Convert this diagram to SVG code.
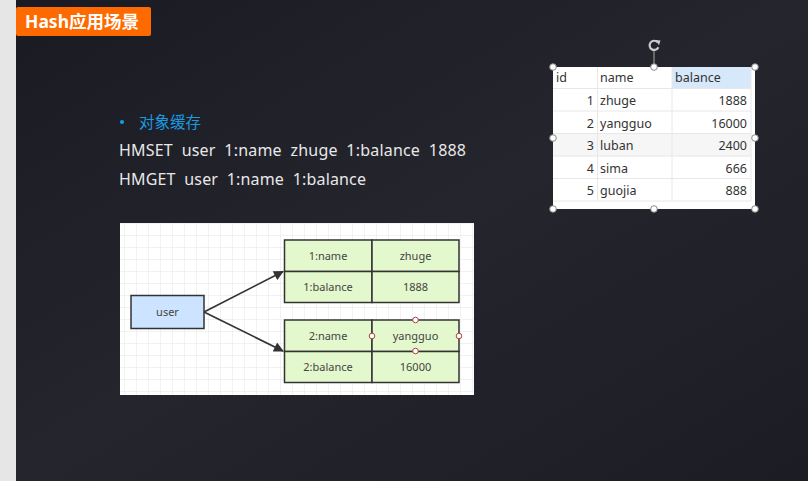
<svg xmlns="http://www.w3.org/2000/svg" width="808" height="481" viewBox="0 0 808 481">
<defs>
<linearGradient id="bg" x1="0" y1="0" x2="1" y2="1">
<stop offset="0" stop-color="#1a1a22"/>
<stop offset="0.5" stop-color="#25252d"/>
<stop offset="1" stop-color="#1c1c24"/>
</linearGradient>
<pattern id="grid" x="124" y="235" width="12" height="12" patternUnits="userSpaceOnUse">
<path d="M0 0V12M0 0H12" fill="none" stroke="#e6e6e6" stroke-width="1"/>
</pattern>
<marker id="arr" viewBox="0 0 10 10" refX="9" refY="5" markerWidth="11" markerHeight="10" markerUnits="userSpaceOnUse" orient="auto">
<path d="M0 0L10 5L0 10Z" fill="#333"/>
</marker>
<style>
.t{font-family:"Noto Sans","Noto Sans CJK SC",sans-serif}
.cmd{font-size:16px;fill:#e8e8e8}
.cell{fill:#e3f8cc;stroke:#333;stroke-width:1.5}
.ct{font-family:"Noto Sans",sans-serif;font-size:11px;fill:#444;text-anchor:middle}
.h{fill:#fff;stroke:#b04040;stroke-width:1}
.tb{font-family:"Noto Sans","Microsoft YaHei",sans-serif;font-size:12.5px;fill:#333}
.r{text-anchor:end}
.sel{fill:#fff;stroke:#888;stroke-width:1}
</style>
</defs>
<rect width="808" height="481" fill="url(#bg)"/>
<rect width="16" height="481" fill="#e6e6e6"/>

<g id="title">
<rect x="16" y="7" width="135" height="29" rx="2" fill="#ff6a00"/>
<text class="t" x="25" y="28" font-size="17.5" font-weight="bold" fill="#fff">Hash应用场景</text>
</g>

<g id="text">
<circle cx="122" cy="122" r="2.1" fill="#1a9ae0"/>
<text class="t" x="139" y="128" font-size="15.5" fill="#1a9ae0">对象缓存</text>
<text class="t cmd" x="119" y="156" textLength="347" lengthAdjust="spacing" xml:space="preserve">HMSET  user  1:name  zhuge  1:balance  1888</text>
<text class="t cmd" x="119" y="185" textLength="247" lengthAdjust="spacing" xml:space="preserve">HMGET  user  1:name  1:balance</text>
</g>

<g id="diagram">
<rect x="120" y="223" width="354" height="172" fill="#fff"/>
<rect x="120" y="223" width="354" height="172" fill="url(#grid)"/>
<g id="connectors">
<line x1="204" y1="312" x2="283" y2="271.5" stroke="#333" stroke-width="1.7" marker-end="url(#arr)"/>
<line x1="204" y1="312" x2="283" y2="351" stroke="#333" stroke-width="1.7" marker-end="url(#arr)"/>
</g>
<g id="user">
<rect x="131" y="295.5" width="73" height="33" fill="#cce4ff" stroke="#333" stroke-width="1.5"/>
<text class="ct" x="167.5" y="316">user</text>
</g>
<g id="hash1">
<rect class="cell" x="284.5" y="240" width="87.5" height="31.5"/>
<rect class="cell" x="372" y="240" width="87" height="31.5"/>
<rect class="cell" x="284.5" y="271.5" width="87.5" height="31"/>
<rect class="cell" x="372" y="271.5" width="87" height="31"/>
<text class="ct" x="328" y="260">1:name</text>
<text class="ct" x="415.5" y="260">zhuge</text>
<text class="ct" x="328" y="291">1:balance</text>
<text class="ct" x="415.5" y="291">1888</text>
</g>
<g id="hash2">
<rect class="cell" x="284.5" y="320" width="87.5" height="31.5"/>
<rect class="cell" x="372" y="320" width="87" height="31.5"/>
<rect class="cell" x="284.5" y="351.5" width="87.5" height="31"/>
<rect class="cell" x="372" y="351.5" width="87" height="31"/>
<text class="ct" x="328" y="340">2:name</text>
<text class="ct" x="415.5" y="340">yangguo</text>
<text class="ct" x="328" y="371">2:balance</text>
<text class="ct" x="415.5" y="371">16000</text>
<circle class="h" cx="415.5" cy="320" r="2.8"/>
<circle class="h" cx="372" cy="336" r="2.8"/>
<circle class="h" cx="459" cy="336" r="2.8"/>
<circle class="h" cx="415.5" cy="351" r="2.8"/>
</g>
</g>

<g id="table">
<rect x="553" y="67" width="202" height="142" fill="#fff"/>
<rect x="672" y="67" width="79" height="21.5" fill="#d6e8fa"/>
<rect x="553" y="134" width="198" height="22.5" fill="#f6f6f6"/>
<g stroke="#e8e8e8" stroke-width="1">
<line x1="597.5" y1="67" x2="597.5" y2="201"/>
<line x1="672" y1="67" x2="672" y2="201"/>
<line x1="751" y1="67" x2="751" y2="201"/>
<line x1="553" y1="88.5" x2="751" y2="88.5"/>
<line x1="553" y1="111" x2="751" y2="111"/>
<line x1="553" y1="133.5" x2="751" y2="133.5"/>
<line x1="553" y1="156" x2="751" y2="156"/>
<line x1="553" y1="178.5" x2="751" y2="178.5"/>
<line x1="553" y1="201" x2="751" y2="201"/>
</g>
<text class="tb" x="556" y="82">id</text>
<text class="tb" x="600" y="82">name</text>
<text class="tb" x="675" y="82">balance</text>
<text class="tb r" x="594" y="105">1</text><text class="tb" x="600" y="105">zhuge</text><text class="tb r" x="747" y="105">1888</text>
<text class="tb r" x="594" y="127.5">2</text><text class="tb" x="600" y="127.5">yangguo</text><text class="tb r" x="747" y="127.5">16000</text>
<text class="tb r" x="594" y="150">3</text><text class="tb" x="600" y="150">luban</text><text class="tb r" x="747" y="150">2400</text>
<text class="tb r" x="594" y="172.5">4</text><text class="tb" x="600" y="172.5">sima</text><text class="tb r" x="747" y="172.5">666</text>
<text class="tb r" x="594" y="195">5</text><text class="tb" x="600" y="195">guojia</text><text class="tb r" x="747" y="195">888</text>
<line x1="654" y1="51" x2="654" y2="67" stroke="#aaa" stroke-width="1"/>
<path d="M657.6 42.2A4.6 4.6 0 1 0 658.4 47.3" fill="none" stroke="#ccc" stroke-width="2.2"/>
<path d="M655.5 40L660.5 40.5L659 45.3Z" fill="#ccc"/>
<circle class="sel" cx="553" cy="67" r="3.3"/>
<circle class="sel" cx="654" cy="67" r="3.3"/>
<circle class="sel" cx="755" cy="67" r="3.3"/>
<circle class="sel" cx="553" cy="138" r="3.3"/>
<circle class="sel" cx="755" cy="138" r="3.3"/>
<circle class="sel" cx="553" cy="209" r="3.3"/>
<circle class="sel" cx="654" cy="209" r="3.3"/>
<circle class="sel" cx="755" cy="209" r="3.3"/>
</g>
</svg>
